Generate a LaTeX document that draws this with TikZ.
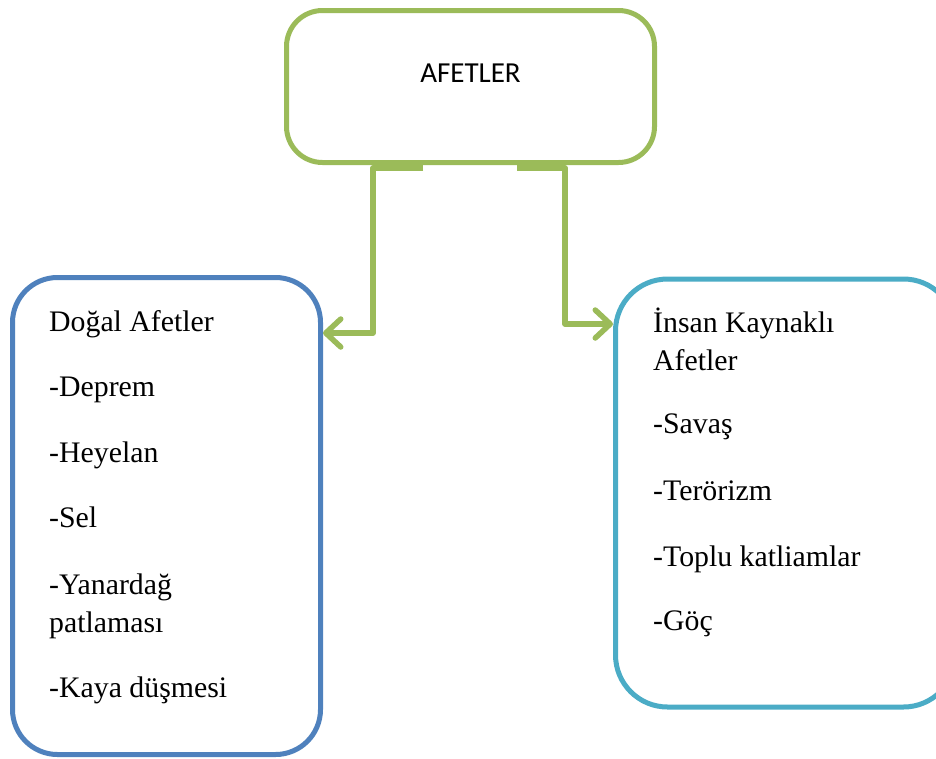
\documentclass[tikz,border=0pt]{standalone}
\usepackage{fontspec}
\setmainfont{Liberation Serif}
\newfontfamily\calfont{Carlito}
\usetikzlibrary{arrows.meta}
\definecolor{agreen}{HTML}{9BBB59}
\definecolor{ablue}{HTML}{4F81BD}
\definecolor{ateal}{HTML}{4BACC6}
\begin{document}
\begin{tikzpicture}[x=1pt,y=-1pt,
  box/.style={draw,line width=5pt,rounded corners=#1,fill=white,inner sep=0pt},
  txt/.style={anchor=base west,inner sep=0pt,font=\fontsize{29.8}{36}\selectfont},
  conn/.style={draw=agreen,line width=5.5pt,line join=round,
    -{Straight Barb[length=15pt,width=28pt,line cap=round,line join=round]}}]
\useasboundingbox (0,0) rectangle (936,758);
\begin{scope}
\clip (0,0) rectangle (936,758);
\node[box=36pt,draw=agreen,minimum width=368pt,minimum height=152pt] (top) at (470.5,86.5) {};
\node[font=\calfont\fontsize{29}{34}\selectfont,anchor=base,inner sep=0pt] (ttl) at (470.5,82) {AFETLER};
\node[box=45pt,draw=ablue,minimum width=308pt,minimum height=477pt] (left) at (166.5,516) {};
\node[box=52pt,draw=ateal,minimum width=340pt,minimum height=428pt] (right) at (785.5,493) {};
% connectors
\coordinate (ls) at (423,168);
\coordinate (rs) at (517,168);
\draw[conn] (ls) -| (373,333) -- (left.east |- 0,333);
\draw[conn] (rs) -| (565,324) -- (right.west |- 0,324);
% left text
\node[txt] (l1) at (49,331) {Doğal Afetler};
\node[txt] (l2) at (49,396) {-Deprem};
\node[txt] (l3) at (49,462) {-Heyelan};
\node[txt] (l4) at (49,527) {-Sel};
\node[txt] (l5) at (49,594) {-Yanardağ};
\node[txt] (l6) at (49,632) {patlaması};
\node[txt] (l7) at (49,697) {-Kaya düşmesi};
% right text
\node[txt] (r1) at (653,332) {İnsan Kaynaklı};
\node[txt] (r2) at (653,370) {Afetler};
\node[txt] (r3) at (653,433) {-Savaş};
\node[txt] (r4) at (653,500) {-Terörizm};
\node[txt] (r5) at (653,566) {-Toplu katliamlar};
\node[txt] (r6) at (653,630) {-Göç};
\end{scope}
\end{tikzpicture}
\end{document}
